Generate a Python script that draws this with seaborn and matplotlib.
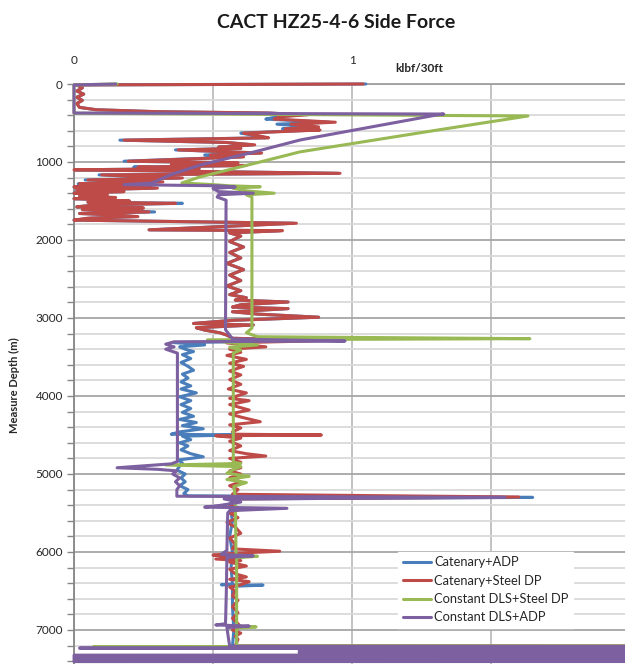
import numpy as np
import pandas as pd
import matplotlib
matplotlib.use("Agg")
import matplotlib.pyplot as plt
import seaborn as sns
from matplotlib.ticker import MultipleLocator, FixedLocator

# ---------------- data (depth m, side force klbf/30ft) ----------------
series_names = ["Catenary+ADP", "Catenary+Steel DP", "Constant DLS+Steel DP", "Constant DLS+ADP"]
series_colors = ["#4A7EBB", "#BE4B48", "#98B954", "#7D60A0"]

catenary_adp_top = [
    (0, 1.05), (12, 0.01), (50, 0.03), (90, 0.01), (130, 0.035), (170, 0.01), (210, 0.03),
    (250, 0.01), (300, 0.02), (330, 0.08), (355, 0.30), (372, 0.70), (395, 0.82), (420, 0.73),
    (450, 0.69), (490, 0.92), (515, 0.73), (550, 0.86), (575, 0.75), (590, 0.87), (630, 0.60),
    (660, 0.65), (690, 0.69), (720, 0.165), (750, 0.55), (780, 0.64), (810, 0.52), (825, 0.60),
    (845, 0.365), (885, 0.67), (910, 0.47), (935, 0.60), (990, 0.18), (1010, 0.58), (1035, 0.35),
    (1045, 0.61), (1065, 0.215), (1085, 0.45), (1100, 0.005), (1145, 0.95), (1165, 0.09),
    (1205, 0.38), (1230, 0.04), (1255, 0.31), (1280, 0.015), (1295, 0.27), (1320, 0.0),
    (1335, 0.29), (1360, 0.01), (1380, 0.17), (1400, 0.0), (1420, 0.11), (1440, 0.02),
    (1455, 0.14), (1470, 0.0), (1500, 0.19), (1515, 0.05), (1530, 0.39), (1550, 0.08),
    (1575, 0.01), (1590, 0.24), (1610, 0.03), (1640, 0.29), (1660, 0.02), (1680, 0.15),
    (1700, 0.22), (1720, 0.06), (1745, 0.0), (1785, 0.79), (1870, 0.27), (1880, 0.74), (1910, 0.56),
]

catenary_steel_top = [
    (0, 1.04), (12, 0.01), (50, 0.03), (90, 0.01), (130, 0.035), (170, 0.01), (210, 0.03),
    (250, 0.01), (300, 0.02), (330, 0.08), (355, 0.30), (372, 0.70), (395, 0.84), (420, 0.74),
    (450, 0.72), (490, 0.94), (515, 0.78), (550, 0.88), (575, 0.76), (590, 0.885), (630, 0.61),
    (660, 0.66), (690, 0.70), (720, 0.18), (750, 0.55), (780, 0.65), (810, 0.52), (825, 0.60),
    (845, 0.375), (885, 0.675), (910, 0.49), (935, 0.61), (990, 0.195), (1010, 0.59), (1035, 0.35),
    (1045, 0.62), (1065, 0.23), (1085, 0.45), (1100, 0.0), (1145, 0.957), (1165, 0.10),
    (1205, 0.39), (1230, 0.05), (1255, 0.32), (1280, 0.02), (1295, 0.28), (1320, 0.0),
    (1335, 0.30), (1360, 0.01), (1380, 0.18), (1400, 0.0), (1420, 0.12), (1440, 0.02),
    (1455, 0.15), (1470, 0.0), (1500, 0.20), (1515, 0.05), (1530, 0.365), (1550, 0.08),
    (1575, 0.01), (1590, 0.25), (1610, 0.03), (1640, 0.27), (1660, 0.02), (1680, 0.15),
    (1700, 0.23), (1720, 0.05), (1745, 0.0), (1785, 0.80), (1870, 0.27), (1880, 0.75), (1910, 0.56),
]

catenary_mid = [
    (1950, 0.60), (2020, 0.56), (2090, 0.61), (2160, 0.56), (2230, 0.60), (2300, 0.55),
    (2380, 0.61), (2450, 0.56), (2520, 0.60), (2590, 0.55), (2650, 0.60), (2700, 0.56),
    (2740, 0.62), (2770, 0.58), (2795, 0.77), (2830, 0.60), (2860, 0.57), (2880, 0.77),
    (2920, 0.57), (2950, 0.66), (2990, 0.88), (3030, 0.57), (3070, 0.43), (3090, 0.645),
    (3125, 0.44), (3155, 0.47), (3190, 0.525), (3220, 0.55), (3260, 0.57), (3290, 0.90),
]

catenary_adp_low = [
    (3315, 0.36), (3345, 0.47), (3370, 0.38), (3400, 0.40), (3430, 0.43), (3470, 0.39),
    (3520, 0.42), (3570, 0.385), (3620, 0.41), (3670, 0.43), (3720, 0.39), (3770, 0.41),
    (3820, 0.385), (3870, 0.42), (3910, 0.385), (3960, 0.44), (4010, 0.38), (4060, 0.42),
    (4110, 0.385), (4160, 0.42), (4210, 0.39), (4260, 0.43), (4300, 0.38), (4340, 0.44),
    (4380, 0.39), (4420, 0.465), (4460, 0.38), (4490, 0.35), (4500, 0.57), (4515, 0.39),
    (4560, 0.42), (4600, 0.38), (4640, 0.41), (4690, 0.385), (4740, 0.42), (4780, 0.465),
    (4820, 0.375), (4860, 0.39), (4900, 0.38), (4950, 0.37), (5000, 0.40), (5050, 0.385),
    (5100, 0.40), (5150, 0.38), (5200, 0.41), (5250, 0.395), (5280, 0.41), (5300, 1.65),
    (5320, 0.57), (5400, 0.56), (5600, 0.57), (5800, 0.56), (6000, 0.57), (6200, 0.565),
    (6410, 0.57), (6420, 0.53), (6425, 0.68), (6440, 0.57), (6700, 0.57), (7000, 0.575),
    (7205, 0.57), (7218, 20.0),
]

catenary_steel_low = [
    (3320, 0.55), (3345, 0.62), (3370, 0.69), (3400, 0.56), (3440, 0.60), (3480, 0.55),
    (3530, 0.62), (3580, 0.56), (3620, 0.61), (3680, 0.56), (3730, 0.60), (3790, 0.56),
    (3850, 0.60), (3910, 0.555), (3960, 0.62), (4030, 0.56), (4060, 0.63), (4110, 0.56),
    (4180, 0.63), (4230, 0.56), (4270, 0.60), (4330, 0.67), (4370, 0.56), (4410, 0.60),
    (4460, 0.57), (4490, 0.58), (4500, 0.89), (4510, 0.51), (4540, 0.60), (4580, 0.56),
    (4640, 0.60), (4700, 0.56), (4740, 0.62), (4770, 0.69), (4800, 0.56), (4850, 0.60),
    (4880, 0.55), (4920, 0.60), (4960, 0.56), (5000, 0.60), (5050, 0.56), (5100, 0.60),
    (5150, 0.56), (5200, 0.59), (5260, 0.57), (5295, 1.60), (5320, 0.56), (5340, 0.58),
    (5400, 0.56), (5450, 0.60), (5500, 0.56), (5560, 0.59), (5620, 0.55), (5680, 0.58),
    (5760, 0.60), (5820, 0.56), (5900, 0.58), (5960, 0.57), (5990, 0.74), (6020, 0.56),
    (6040, 0.50), (6070, 0.60), (6090, 0.51), (6110, 0.60), (6130, 0.56), (6180, 0.62),
    (6220, 0.56), (6280, 0.58), (6320, 0.62), (6350, 0.56), (6380, 0.63), (6420, 0.60),
    (6450, 0.56), (6500, 0.58), (6560, 0.57), (6620, 0.59), (6700, 0.57), (6780, 0.59),
    (6850, 0.57), (6920, 0.59), (6960, 0.60), (7000, 0.57), (7040, 0.60), (7080, 0.58),
    (7120, 0.59), (7205, 0.58), (7218, 20.0), (7305, 1.90), (7310, 20.0),
]

constant_steel = [
    (0, 0.155), (12, 0.0), (375, 0.0), (410, 1.633), (600, 1.29), (870, 0.813), (1000, 0.669),
    (1192, 0.453), (1269, 0.388), (1290, 0.50),
    (1305, 0.56), (1318, 0.67), (1335, 0.57), (1370, 0.62), (1400, 0.72), (1420, 0.62),
    (1450, 0.64), (3130, 0.64), (3190, 0.62), (3240, 0.66), (3265, 1.64), (3280, 0.48),
    (3320, 0.57), (3345, 0.66), (3375, 0.56), (3410, 0.60), (3450, 0.573), (4850, 0.573),
    (4865, 0.60), (4885, 0.33), (4905, 0.60), (4950, 0.57), (4990, 0.55), (5030, 0.63),
    (5070, 0.55), (5110, 0.62), (5160, 0.575), (5300, 0.58), (6040, 0.583), (6055, 0.66),
    (6075, 0.585), (6950, 0.585), (6960, 0.655), (6975, 0.585), (7205, 0.585), (7214, 20.0),
    (7216, 0.07), (7220, 20.0),
]

constant_adp = [
    (0, 0.15), (12, 0.0), (372, 0.0), (385, 1.33), (400, 1.30), (718, 0.813), (860, 0.66),
    (1040, 0.453), (1160, 0.35), (1270, 0.28), (1290, 0.18),
    (1305, 0.52), (1320, 0.58), (1340, 0.50), (1380, 0.52), (1400, 0.645), (1420, 0.52),
    (1450, 0.515), (1490, 0.547), (3150, 0.545), (3220, 0.56), (3270, 0.57), (3295, 0.975),
    (3305, 0.36), (3335, 0.33), (3370, 0.36), (3400, 0.33), (3450, 0.372), (4840, 0.372),
    (4870, 0.35), (4920, 0.155), (4940, 0.30), (4960, 0.37), (5000, 0.355), (5050, 0.38),
    (5100, 0.365), (5150, 0.38), (5200, 0.37), (5285, 0.37), (5300, 1.55), (5320, 0.54),
    (5360, 0.60), (5400, 0.53), (5425, 0.47), (5440, 0.766), (5470, 0.56), (5500, 0.553),
    (5980, 0.55), (6030, 0.53), (6050, 0.645), (6070, 0.55), (6500, 0.548), (6920, 0.545),
    (6935, 0.51), (6950, 0.63), (6970, 0.55), (7210, 0.56), (7222, 20.0), (7232, 0.02),
    (7245, 20.0), (7265, 0.81), (7275, 20.0), (7290, 0.81), (7300, 20.0), (7325, 0.0),
    (7335, 20.0), (7345, 0.0), (7355, 20.0), (7365, 0.0), (7375, 20.0), (7385, 0.0),
    (7395, 20.0), (7405, 0.0),
]

depth_ticks = [0, 1000, 2000, 3000, 4000, 5000, 6000, 7000]
force_ticks = [0, 0.5, 1, 1.5]
force_tick_labels = ["0", "", "1", ""]

# ---------------- build table ----------------
series_points = [
    catenary_adp_top + catenary_mid + catenary_adp_low,
    catenary_steel_top + catenary_mid + catenary_steel_low,
    constant_steel,
    constant_adp,
]
rows = []
for name, pts in zip(series_names, series_points):
    for i, (d, v) in enumerate(pts):
        rows.append({"series": name, "order": i, "depth": d, "force": v})
df = pd.DataFrame(rows)

# ---------------- plot ----------------
sns.set_style("white")
plt.rcParams["font.family"] = ["Lato", "DejaVu Sans"]

fig = plt.figure(figsize=(6.25, 6.64), dpi=100)
ax = fig.add_axes([74 / 625, 0.0, 1 - 74 / 625, (664 - 84) / 664])

sns.lineplot(data=df, x="force", y="depth", hue="series", hue_order=series_names,
             palette=series_colors, sort=False, estimator=None, linewidth=2.2,
             ax=ax, legend=True, clip_on=False)

ax.set_xlim(0, (625 - 74) / 278)
ax.set_ylim(7436, 0)

# grid
ax.yaxis.set_major_locator(FixedLocator(depth_ticks))
ax.yaxis.set_minor_locator(MultipleLocator(200))
ax.set_yticklabels([str(t) for t in depth_ticks])
ax.set_axisbelow(True)
ax.grid(which="minor", axis="y", color="#D9D9D9", linewidth=1.3)
ax.grid(which="major", axis="y", color="#A6A6A6", linewidth=1.3)
ax.xaxis.tick_top()
ax.set_xticks(force_ticks)
ax.set_xticklabels(force_tick_labels)
ax.grid(which="major", axis="x", color="#BDBDBD", linewidth=1.3)

for s in ["right", "bottom"]:
    ax.spines[s].set_visible(False)
ax.spines["top"].set_color("#A0A0A0")
ax.spines["top"].set_linewidth(1.3)
ax.spines["top"].set_zorder(0.6)
ax.spines["left"].set_color("#868686")
ax.spines["left"].set_linewidth(1.3)
ax.spines["left"].set_zorder(0.6)

ax.tick_params(axis="y", which="both", direction="out", length=5, width=1,
               color="#868686", labelsize=8.5, labelcolor="#262626", pad=3, left=True)
ax.tick_params(axis="x", which="both", length=0, labelsize=8.5, labelcolor="#262626", pad=13)

ax.set_ylabel("Measure Depth (m)", fontsize=8, fontweight="bold", color="#262626")
ax.yaxis.set_label_coords(-(74 - 20) / 551, (664 - 385) / 580)
ax.set_xlabel("klbf/30ft", fontsize=8.5, fontweight="bold", color="#262626")
ax.xaxis.set_label_position("top")
ax.xaxis.set_label_coords((419 - 74) / 551, (664 - 72) / 580)

fig.suptitle("CACT HZ25-4-6 Side Force", x=336 / 625, y=1 - 23 / 664, va="center",
             fontsize=14, fontweight="bold", color="#1a1a1a")

handles, labels = ax.get_legend_handles_labels()
leg = ax.legend(handles, labels, loc="lower left",
                bbox_to_anchor=((398 - 74) / 551, (664 - 628) / 580, (582 - 398) / 551, (628 - 552) / 580),
                frameon=True, facecolor="white", edgecolor="white", framealpha=1,
                fancybox=False, fontsize=9.3, handlelength=2.2, handletextpad=0.25,
                labelspacing=0.5, borderpad=0.35, borderaxespad=0)
for line in leg.get_lines():
    line.set_linewidth(2.2)
for t in leg.get_texts():
    t.set_color("#262626")

fig.savefig("out.png", dpi=100)
